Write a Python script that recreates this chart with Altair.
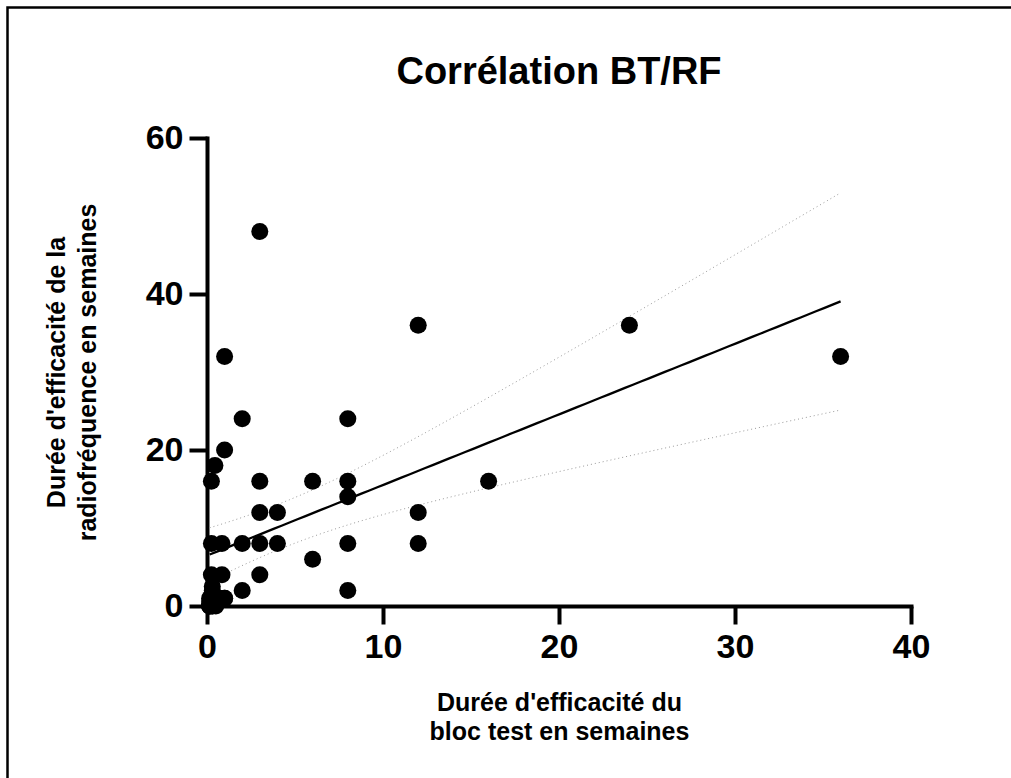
import altair as alt
import numpy as np
import pandas as pd

# Durée d'efficacité du bloc test (semaines) / radiofréquence (semaines)
bt_weeks = [3, 12, 24, 1, 36, 2, 8, 1, 0.45,
            0.25, 3, 6, 8, 16, 8, 3, 4, 12,
            0.25, 0.85, 2, 3, 4, 8, 12, 6,
            0.25, 0.85, 3, 2, 8,
            0.15, 0.15, 0.15, 0.3, 0.3, 0.5, 0.5, 0.7, 0.7, 1, 1, 0.15, 0.3, 0.3, 0.15, 0.5]
rf_weeks = [48, 36, 36, 32, 32, 24, 24, 20, 18,
            16, 16, 16, 16, 16, 14, 12, 12, 12,
            8, 8, 8, 8, 8, 8, 8, 6,
            4, 4, 4, 2, 2,
            0, 0, 0, 0, 0, 0.5, 0.5, 1, 1, 1, 1, 1, 2, 2.5, 0.5, 0]

title_text = "Corrélation BT/RF"
x_title = ["Durée d'efficacité du", "bloc test en semaines"]
y_title = ["Durée d'efficacité de la", "radiofréquence en semaines"]
x_ticks = [0, 10, 20, 30, 40]
y_ticks = [0, 20, 40, 60]

pts = pd.DataFrame({"x": bt_weeks, "y": rf_weeks})
one = pd.DataFrame({"t": [title_text]})

# linear regression with 95% confidence band (computed from the data)
xa = np.array(bt_weeks, dtype=float)
ya = np.array(rf_weeks, dtype=float)
n = len(xa)
slope, intercept = np.polyfit(xa, ya, 1)
resid = ya - (slope * xa + intercept)
dof = n - 2
s = np.sqrt(np.sum(resid ** 2) / dof)
z = 1.959964
tval = z + (z ** 3 + z) / (4 * dof) + (5 * z ** 5 + 16 * z ** 3 + 3 * z) / (96 * dof ** 2)
sxx = np.sum((xa - xa.mean()) ** 2)
xs = np.linspace(xa.min(), xa.max(), 80)
fit = slope * xs + intercept
half = tval * s * np.sqrt(1.0 / n + (xs - xa.mean()) ** 2 / sxx)
band = pd.DataFrame({"x": xs, "fit": fit, "lo": fit - half, "hi": fit + half})

FONT = "Liberation Sans"

xenc = alt.X("x:Q", scale=alt.Scale(domain=[0, 40], nice=False),
             axis=alt.Axis(values=x_ticks, title=x_title, titlePadding=26,
                           titleLineHeight=29, labelPadding=6, labelFlush=False))
yenc = alt.Y("y:Q", scale=alt.Scale(domain=[0, 60], nice=False),
             axis=alt.Axis(values=y_ticks, title=y_title, titlePadding=45,
                           titleLineHeight=31, labelPadding=6, labelFlush=False))

points = alt.Chart(pts).mark_circle(size=290, color="black", opacity=1).encode(x=xenc, y=yenc)

line = alt.Chart(band).mark_line(color="black", strokeWidth=2.3).encode(
    x="x:Q", y="fit:Q")
upper = alt.Chart(band).mark_line(color="#9a9a9a", strokeWidth=1, strokeDash=[1, 3]).encode(
    x="x:Q", y="hi:Q")
lower = alt.Chart(band).mark_line(color="#9a9a9a", strokeWidth=1, strokeDash=[1, 3]).encode(
    x="x:Q", y="lo:Q")

# figure frame (only its top and left edges fall inside the picture)
frame = alt.Chart(one).mark_rect(fill=None, stroke="black", strokeWidth=2.5).encode(
    x=alt.value(-199.5), x2=alt.value(820), y=alt.value(-130.5), y2=alt.value(660))

title = alt.Chart(one).mark_text(
    font=FONT, fontSize=38, fontWeight="bold", color="black",
    align="center", baseline="alphabetic").encode(
    text="t:N", x=alt.value(352), y=alt.value(-54))

chart = alt.layer(upper, lower, line, points, frame, title).properties(
    width=704, height=468,
    background="white",
    autosize=alt.AutoSizeParams(type="none"),
    padding={"left": 207, "top": 138, "right": 100, "bottom": 172},
).configure_view(stroke=None).configure_axis(
    grid=False, domainColor="black", domainWidth=4, tickColor="black", tickWidth=4,
    tickSize=18, labelFont=FONT, labelFontSize=34, labelFontWeight="bold",
    labelColor="black", titleFont=FONT, titleFontSize=25, titleFontWeight="bold",
    titleColor="black", domainCap="square"
)

chart.save("out.html", embed_options={"renderer": "svg", "actions": False})
